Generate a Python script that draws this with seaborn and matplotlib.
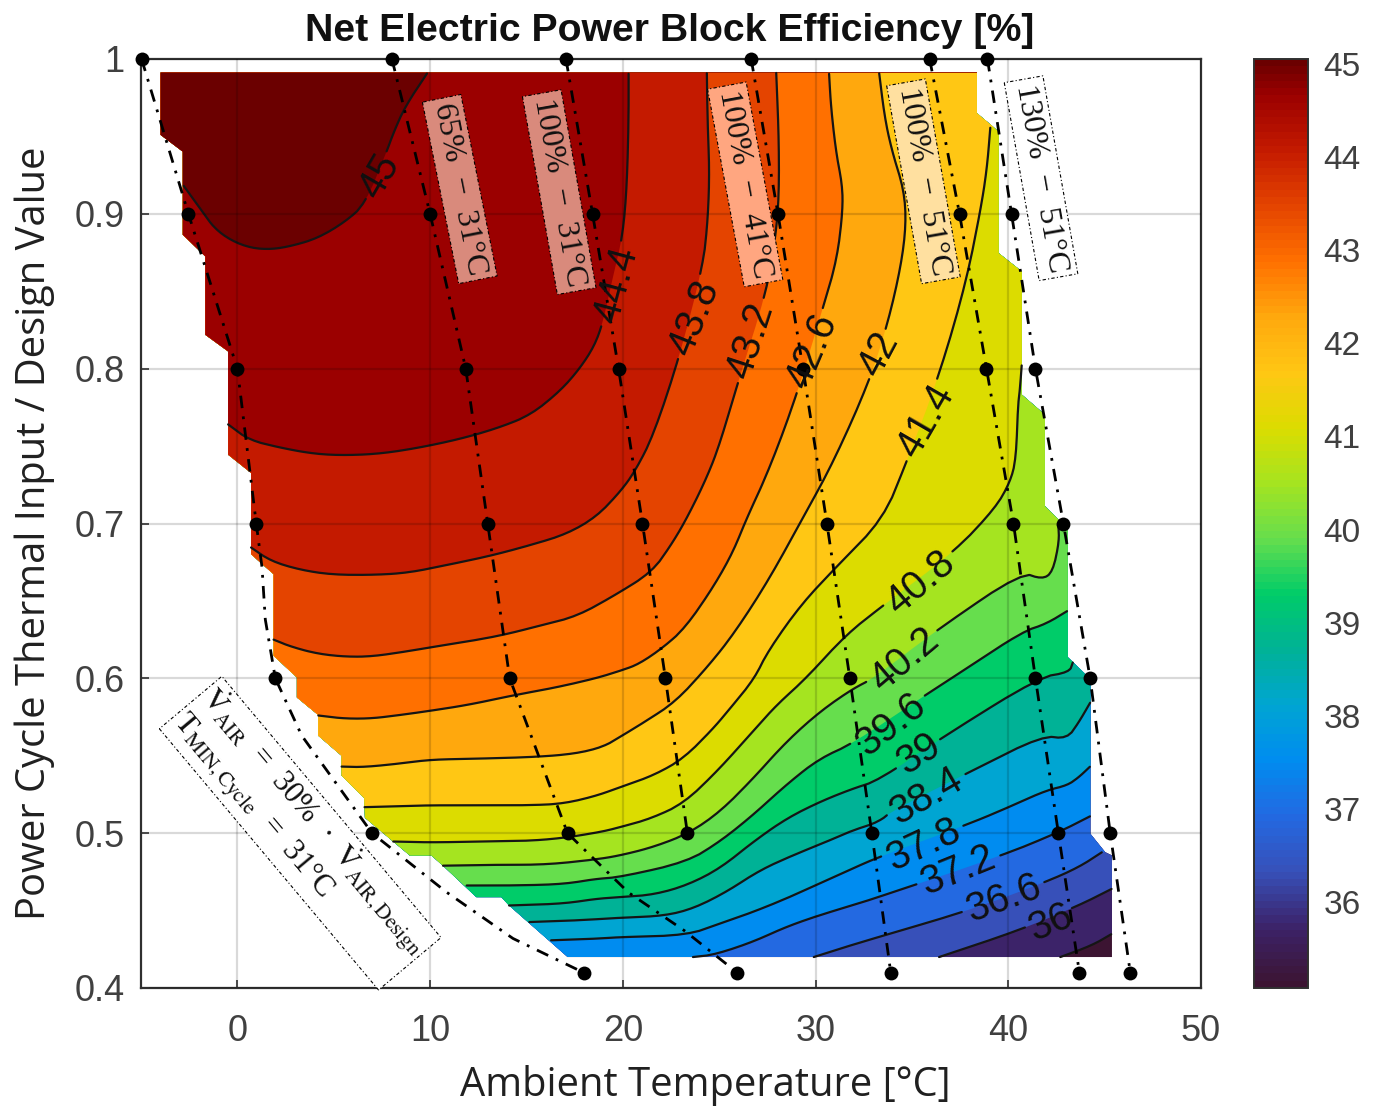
import numpy as np
import matplotlib
matplotlib.use("Agg")
import matplotlib.pyplot as plt
from matplotlib.cm import ScalarMappable
from matplotlib.colors import LinearSegmentedColormap, Normalize
from matplotlib.patches import Polygon
import seaborn as sns

# contour levels, lowest first
LEVELS = [35.4, 36, 36.6, 37.2, 37.8, 38.4, 39, 39.6, 40.2, 40.8, 41.4, 42, 42.6, 43.2, 43.8, 44.4, 45]

X_354 = [42.7, 44.34, 45.38]
Y_354 = [.42, .4275, .435]
X_360 = [36.41, 40.55, 43.66, 45.38]
Y_360 = [.42, .4372, .4533, .4641]
X_366 = [29.91, 31.55, 33.26, 37.97, 41.93, 43.66, 44.86]
Y_366 = [.42, .4265, .4329, .4501, .4684, .478, .4877]
X_372 = [23.64, 24.76, 26.74, 28.45, 30.17, 31.89, 33.26, 39.69, 42.62, 44.26]
Y_372 = [.42, .4215, .4297, .4394, .4469, .4533, .4587, .4856, .5006, .511]
X_378 = [16.28, 18.6, 19.86, 23.3, 25.02, 26.74, 28.45, 30.17, 31.89, 33.26, 37.97, 40.03, 41.93, 43.05, 43.66, 44.26]
Y_378 = [.4308, .4318, .4329, .434, .4415, .449, .4576, .4673, .477, .4845, .506, .5168, .5275, .5308, .5361, .5432]
X_384 = [15.15, 17.74, 19.86, 22.1, 23.64, 25.36, 27.08, 28.8, 30.52, 31.89, 33.26, 34, 38.14, 41.76, 43.05, 43.66, 44.26]
Y_384 = [.4426, .4437, .4454, .4465, .4512, .4619, .4759, .4856, .4942, .5017, .5071, .5146, .5404, .563, .5609, .5716, .5845]
X_390 = [14.1, 16.9, 18.6, 19.86, 21.58, 23.3, 25.02, 26.74, 28.45, 30.17, 31.89, 33.26, 36.59, 41.59, 43.17, 43.35]
Y_390 = [.4533, .4544, .4576, .4587, .4602, .4662, .477, .4942, .5092, .52, .5286, .534, .562, .6006, .6039, .6103]
X_396 = [11.9, 14.3, 16.9, 18.6, 19.86, 23.3, 25, 26.73, 28.45, 30.17, 31.89, 35.8, 37, 40.7, 41.94, 43.09]
Y_396 = [.4662, .4662, .467, .4705, .4716, .4813, .4942, .5114, .531, .548, .5576, .59, .5996, .63, .635, .6437]
X_402 = [10.67, 13.43, 16, 18.6, 19.86, 21.58, 23.38, 25.02, 26.74, 28.45, 30.17, 31.89, 32.95, 36.38, 40.7, 41.76, 42.3, 42.64, 42.6]
Y_402 = [.479, .4796, .4796, .483, .4856, .491, .4996, .5135, .535, .5587, .578, .593, .5996, .632, .6685, .664, .6685, .688, .6987]
X_408 = [8.09, 10, 12.6, 15.15, 17, 18.95, 19.86, 21.41, 23.13, 24.85, 26.56, 27.94, 29.48, 31.53, 33.39, 37.18, 39.3, 40.07, 40.4, 40.5, 40.6, 40.7]
Y_408 = [.4946, .494, .4946, .495, .497, .501, .5039, .5092, .519, .5394, .563, .5824, .5996, .6276, .646, .6815, .7095, .726, .741, .776, .786, .8026]
X_414 = [6.6, 8.26, 10, 12.6, 15.15, 16.9, 18.6, 19.86, 21.58, 23.13, 24.67, 25.53, 26.82, 27.5, 29.2, 31, 33.5, 34.7, 36.4, 37.8, 38.6, 38.9, 39.07]
Y_414 = [.5168, .5174, .518, .518, .518, .519, .524, .5297, .5372, .548, .5673, .58, .5996, .617, .647, .671, .7026, .739, .795, .855, .905, .93, .956]
X_420 = [5.41, 6.5, 8.26, 10, 12.05, 15.15, 17.4, 18.95, 19.9, 21.1, 22.7, 24.3, 25.7, 27.5, 29.3, 30.9, 32.7, 33.7, 34.4, 34.7, 34.6, 34, 33.6, 33.3]
Y_420 = [.543, .5426, .5447, .5475, .548, .549, .551, .5555, .5625, .5716, .5845, .606, .6276, .662, .7026, .739, .789, .827, .864, .892, .915, .939, .961, .991]
X_426 = [4.2, 5.5, 6.9, 8.26, 10, 12.05, 14.3, 16.5, 18.6, 19.9, 20.8, 22, 23.2, 24.65, 25.7, 26.4, 27.6, 29, 30.4, 31.1, 31.4, 31.4, 31.07, 30.8, 30.7]
Y_426 = [.576, .574, .574, .576, .579, .583, .589, .594, .6, .605, .609, .619, .632, .658, .681, .7026, .735, .782, .84, .87, .9, .918, .939, .969, .991]
X_432 = [1.88, 2.74, 4.1, 5.5, 6.9, 8.6, 10.3, 12.05, 13.8, 15.7, 17.6, 19.5, 21.5, 22.5, 23.29, 24.3, 25, 25.97, 27.44, 27.9, 28.1, 28.1, 27.96]
Y_432 = [.625, .6206, .616, .614, .614, .617, .6206, .624, .628, .634, .640, .653, .6685, .686, .7026, .728, .75, .791, .849, .883, .909, .948, .991]
X_438 = [.71, 1.7, 3.1, 4.8, 6.9, 8.8, 10.8, 13.1, 15.2, 17.05, 18.6, 19.83, 20.6, 21.56, 22.9, 24.15, 24.4, 24.5, 24.4, 24.36]
Y_438 = [.6845, .676, .6705, .667, .6667, .668, .673, .679, .686, .693, .704, .72, .733, .756, .806, .866, .894, .926, .958, .991]
X_444 = [-.48, .59, 2.2, 3.95, 5.5, 7.4, 9.47, 11.7, 13.6, 15.2, 16.7, 17.7, 18.5, 18.95, 19.5, 19.98, 20.2, 20.3, 20.3]
Y_444 = [.764, .754, .749, .745, .744, .745, .749, .755, .762, .770, .785, .799, .814, .829, .86, .885, .915, .958, .991]
X_450 = [-2.78, -1.91, -1.22, -.36, .67, 1.7, 2.74, 4.12, 5.5, 6.62, 7.74, 8.09, 8.69, 9.86]
Y_450 = [.918, .903, .891, .883, .878, .877, .879, .884, .894, .906, .940, .952, .969, .991]

CONTOUR_X = [X_354, X_360, X_366, X_372, X_378, X_384, X_390, X_396, X_402, X_408, X_414, X_420, X_426, X_432, X_438, X_444, X_450]
CONTOUR_Y = [Y_354, Y_360, Y_366, Y_372, Y_378, Y_384, Y_390, Y_396, Y_402, Y_408, Y_414, Y_420, Y_426, Y_432, Y_438, Y_444, Y_450]

# edge of the region with results (stepped, from the coarse simulation grid)
DOMAIN_X = [17.14, 14.1, 13.7, 12.4, 10.67, 10.07, 8.95, 8.09, 6.62, 6.59, 5.41, 5.41, 4.2, 4.2, 3.09, 3.09, 1.88, 1.88, .71,
            .71, -.48, -.48, -1.66, -1.66, -2.83, -2.83, -3.98, -3.98, 38.37, 38.37, 39.1, 39.5, 39.5, 40.7, 40.7, 41.9, 41.9,
            43.09, 43.09, 44.26, 44.26, 45.03, 45.38, 45.38]
DOMAIN_Y = [.42, .4533, .4587, .4587, .479, .4856, .4856, .4946, .51, .5226, .5372, .55, .563, .5763, .5877, .6006, .6146, .6673, .6802,
            .7327, .7445, .8112, .8219, .8725, .8865, .9402, .951, .9912, .9912, .965, .9574, .953, .8746, .8628, .7832, .7703, .7112,
            .6966, .6136, .5996, .4996, .4877, .4856, .42]

# dash dot operating lines, x against load
LINE_1_X = [-4.97, -2.54, 0, .98, 1.28, 1.45, 1.97, 3.34, 6.99, 10.84, 14.3, 17.96]
LINE_1_Y = [1, .9, .8, .7, .6716, .638, .6, .563, .5, .462, .432, .41]
LINE_2_X = [8.02, 10, 11.85, 12.99, 14.13, 17.13, 20.3, 23.2, 25.93]
LINE_2_Y = [1, .9, .8, .7, .6, .5, .4616, .437, .41]
LINE_3_X = [17.05, 18.43, 19.78, 21.02, 22.21, 23.35]
LINE_3_Y = [1, .9, .8, .7, .6, .5]
LINE_4_X = [26.66, 28.05, 29.35, 30.59, 31.78, 32.92, 33.9]
LINE_4_Y = [1, .9, .8, .7, .6, .5, .41]
LINE_5_X = [35.92, 37.47, 38.87, 40.27, 41.41, 42.6, 43.69]
LINE_5_Y = [1, .9, .8, .7, .6, .5, .41]
LINE_6_X = [38.92, 40.17, 41.41, 42.86, 44.25, 45.29, 46.33]
LINE_6_Y = [1, .9, .8, .7, .6, .5, .41]
NODE_LOADS = [1, .9, .8, .7, .6, .5, .41]

X_TICKS = [0, 10, 20, 30, 40, 50]
Y_TICKS = [.4, .5, .6, .7, .8, .9, 1]
Y_TICK_LABELS = ["0.4", "0.5", "0.6", "0.7", "0.8", "0.9", "1"]
CBAR_TICKS = [36, 37, 38, 39, 40, 41, 42, 43, 44, 45]

LABEL_TEXT = ["", "36", "36.6", "37.2", "37.8", "38.4", "39", "39.6", "40.2", "40.8", "41.4", "42", "42.6", "43.2", "43.8", "44.4", "45"]

BOX_TEXT = ["65%  \u2212  31\u00b0C", "100%  \u2212  31\u00b0C", "100%  \u2212  41\u00b0C", "100%  \u2212  51\u00b0C", "130%  \u2212  51\u00b0C"]

# layout of the contour labels, same order as LEVELS
LABEL_X = [0, 42.2, 39.75, 37.4, 35.6, 35.75, 35.35, 33.9, 34.6, 35.45, 35.7, 33.3, 29.8, 26.65, 23.7, 19.67, 7.4]
LABEL_Y = [0, .442, .458, .476, .4925, .524, .551, .570, .612, .662, .766, .809, .811, .818, .833, .854, .924]
LABEL_ROT = [0, 22, 20, 22, 25, 30, 33, 38, 40, 40, 60, 62, 67, 72, 68, 75, 60]

BOX_X = [11.54, 16.7, 26.35, 35.6, 41.7]
BOX_Y = [.916, .914, .919, .921, .923]
BOX_ROT = [-78.7, -80, -79.5, -80, -80]
BOX_FILL = ["#d98a7c", "#d98a7c", "#ffa680", "#ffe0a0", "white"]

BAND_COLORS = ["#3c1432", "#3c2369", "#3750b9", "#2369e1", "#008cf0", "#00a5d2", "#00b296", "#00cc69", "#66de4d",
               "#a5e420", "#dcdc00", "#ffc714", "#ffa80d", "#ff7000", "#e44400", "#c41a00", "#9b0000", "#6b0000"]
CBAR_POS = [35.08, 35.7, 36.3, 36.9, 37.5, 38.1, 38.7, 39.3, 39.9, 40.5, 41.1, 41.7, 42.3, 42.9, 43.5, 44.1, 44.7, 45.05]

PX_X = 19.32  # pixels per degree
PX_Y = 1547.0  # pixels per unit load
DASHDOT = (0, (4.5, 3, 1, 3))
GREY = "#404040"

sns.set_theme(style="ticks")
plt.rcParams["font.family"] = ["Liberation Sans", "DejaVu Sans"]
plt.rcParams["mathtext.fontset"] = "stix"


def chaikin(xs, ys, rounds=2):
    # round off the corners a bit, ends stay where they are
    p = np.column_stack([xs, ys])
    for _ in range(rounds):
        q = .75 * p[:-1] + .25 * p[1:]
        r = .25 * p[:-1] + .75 * p[1:]
        mid = np.empty((2 * len(q), 2))
        mid[0::2] = q
        mid[1::2] = r
        p = np.vstack([p[:1], mid, p[-1:]])
    return p[:, 0], p[:, 1]


def cut_for_label(xs, ys, lx, ly, half_px):
    # fine steps along the line, then leave out what is under the label
    seg = np.hypot(np.diff(xs) * PX_X, np.diff(ys) * PX_Y)
    s = np.r_[0, np.cumsum(seg)]
    t = np.arange(0, s[-1], 1.0)
    fx = np.interp(t, s, xs)
    fy = np.interp(t, s, ys)
    keep = np.hypot((fx - lx) * PX_X, (fy - ly) * PX_Y) > half_px
    pieces = []
    idx = np.flatnonzero(keep)
    for run in np.split(idx, np.flatnonzero(np.diff(idx) > 1) + 1):
        if len(run) > 1:
            pieces.append((fx[run], fy[run]))
    return pieces


fig = plt.figure(figsize=(13.73, 11.06), dpi=100)
W, H = 1373.0, 1106.0
ax = fig.add_axes([141 / W, 1 - 988 / H, 1060 / W, 929 / H])
cax = fig.add_axes([1254 / W, 1 - 988 / H, 54 / W, 929 / H])

clip = Polygon(np.column_stack([DOMAIN_X, DOMAIN_Y]), closed=True, transform=ax.transData)

base = ax.fill(DOMAIN_X, DOMAIN_Y, color=BAND_COLORS[0], lw=0, zorder=1)

# bands are painted from low to high, each one covers everything above its contour
smooth = [chaikin(cx, cy) for cx, cy in zip(CONTOUR_X, CONTOUR_Y)]
for i, (sx, sy) in enumerate(smooth):
    px = np.r_[-10, sx, 60, 60, -10]
    py = np.r_[sy[0], sy, sy[-1], 1.2, 1.2]
    for patch in ax.fill(px, py, color=BAND_COLORS[i + 1], lw=0, zorder=1 + i * .01):
        patch.set_clip_path(clip)

for i, (sx, sy) in enumerate(smooth):
    half = len(LABEL_TEXT[i]) * 9 + 8 if LABEL_TEXT[i] else 0
    for fx, fy in cut_for_label(sx, sy, LABEL_X[i], LABEL_Y[i], half):
        sns.lineplot(x=fx, y=fy, sort=False, estimator=None, color="#151515", lw=1.6, ax=ax, legend=False, zorder=2)

for lx, ly in [(LINE_1_X, LINE_1_Y), (LINE_2_X, LINE_2_Y), (LINE_3_X, LINE_3_Y),
               (LINE_4_X, LINE_4_Y), (LINE_5_X, LINE_5_Y), (LINE_6_X, LINE_6_Y)]:
    lx = np.array(lx)
    ly = np.array(ly)
    sns.lineplot(x=lx, y=ly, sort=False, estimator=None, color="black", lw=2.0, linestyle=DASHDOT, ax=ax, legend=False, zorder=4)
    on = np.isin(ly, NODE_LOADS)
    sns.scatterplot(x=lx[on], y=ly[on], color="black", s=100, linewidth=0, clip_on=False, ax=ax, legend=False, zorder=5)

for i, txt in enumerate(LABEL_TEXT):
    if txt:
        ax.text(LABEL_X[i], LABEL_Y[i], txt, fontsize=28.5, rotation=LABEL_ROT[i], rotation_mode="anchor",
                ha="center", va="center", color="#101010", zorder=6)

for i, txt in enumerate(BOX_TEXT):
    ax.text(BOX_X[i], BOX_Y[i], txt, fontsize=23, family="Liberation Serif", rotation=BOX_ROT[i], rotation_mode="anchor",
            ha="center", va="center", color="#101010", zorder=7,
            bbox=dict(boxstyle="square,pad=0.16", facecolor=BOX_FILL[i], edgecolor="black", linestyle=(0, (3, 2, 1, 2)), lw=.8))

note = ("$\\dot{\\mathrm{V}}_{\\mathrm{AIR}}$  =  30%  \u00b7  $\\dot{\\mathrm{V}}_{\\mathrm{AIR,Design}}$\n"
        "$\\mathrm{T}_{\\mathrm{MIN,Cycle}}$  =  31\u00b0C")
ax.text(3.26, .50, note, fontsize=22, family="Liberation Serif", rotation=-50, rotation_mode="anchor",
        ha="center", va="center", multialignment="left", linespacing=1.0, color="#101010", zorder=7,
        bbox=dict(boxstyle="square,pad=0.1", facecolor="white", edgecolor="black", linestyle=(0, (3, 2, 1, 2)), lw=.8))

ax.set_xlim(-5, 50)
ax.set_ylim(.4, 1)
ax.set_xticks(X_TICKS)
ax.set_yticks(Y_TICKS)
ax.set_yticklabels(Y_TICK_LABELS)
ax.grid(True, color="black", alpha=.15, lw=1.6)
ax.set_axisbelow(False)
ax.tick_params(direction="in", length=6, width=1.2, color="#303030", labelsize=26, labelcolor=GREY)
ax.tick_params(axis="x", pad=19)
ax.tick_params(axis="y", pad=12)
for s in ax.spines.values():
    s.set_visible(True)
    s.set_color("#303030")
    s.set_linewidth(1.6)

ax.set_xlabel("Ambient Temperature [\u00b0C]", fontsize=28.7, family="Open Sans", color="#202020", va="center")
ax.xaxis.set_label_coords(.532, -.105)
ax.set_ylabel("Power Cycle Thermal Input / Design Value", fontsize=28.7, family="Open Sans", color="#202020", va="center")
ax.yaxis.set_label_coords(-.1, .49)
ax.text(.499, 1.03, "Net Electric Power Block Efficiency [%]", transform=ax.transAxes, fontsize=28.3, fontweight="bold",
        ha="center", va="center", color="#101010")

norm = Normalize(CBAR_POS[0], CBAR_POS[-1])
cmap = LinearSegmentedColormap.from_list("bands", [(norm(p), c) for p, c in zip(CBAR_POS, BAND_COLORS)], N=128)
cbar = fig.colorbar(ScalarMappable(norm=norm, cmap=cmap), cax=cax)
cbar.set_ticks(CBAR_TICKS)
cbar.ax.tick_params(direction="in", length=6, width=1.2, color="#202020", labelsize=24, labelcolor=GREY, pad=11)
cbar.outline.set_edgecolor("#303030")
cbar.outline.set_linewidth(1.4)

fig.savefig("out.png", dpi=100)
